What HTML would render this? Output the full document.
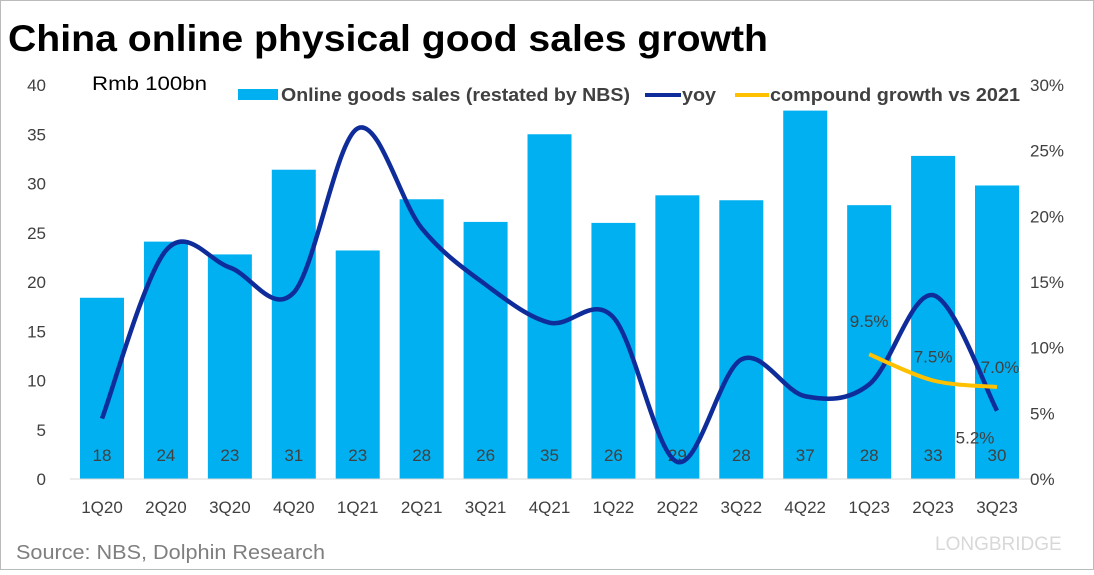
<!DOCTYPE html>
<html><head><meta charset="utf-8"><style>
body{margin:0;background:#fff;}
svg text{font-family:"Liberation Sans","Noto Sans CJK SC",sans-serif;}
</style></head><body>
<svg id="chart" width="1094" height="570" xmlns="http://www.w3.org/2000/svg">
<rect x="0.5" y="0.5" width="1093" height="569" fill="#fff" stroke="#bbb"/>
<text x="8" y="51" font-size="37" font-weight="bold" fill="#000" textLength="760" lengthAdjust="spacingAndGlyphs">China online physical good sales growth</text>
<text x="92" y="90" font-size="19" fill="#000" textLength="115" lengthAdjust="spacingAndGlyphs">Rmb 100bn</text>
<g>
<rect x="238" y="89" width="40" height="11" fill="#00b0f0"/>
<text x="281" y="101" font-size="18" font-weight="bold" fill="#404040" textLength="349" lengthAdjust="spacingAndGlyphs">Online goods sales (restated by NBS)</text>
<line x1="645" y1="95" x2="681" y2="95" stroke="#0f2d9a" stroke-width="4"/>
<text x="682" y="101" font-size="18" font-weight="bold" fill="#404040" textLength="34" lengthAdjust="spacingAndGlyphs">yoy</text>
<line x1="735" y1="95" x2="769" y2="95" stroke="#ffc000" stroke-width="4"/>
<text x="770" y="101" font-size="18" font-weight="bold" fill="#404040" textLength="250" lengthAdjust="spacingAndGlyphs">compound growth vs 2021</text>
</g>
<g id="plot"></g>
<text x="16" y="559" font-size="20" fill="#7f7f7f" textLength="309" lengthAdjust="spacingAndGlyphs">Source: NBS, Dolphin Research</text>
<text x="935" y="550" font-size="19" fill="#d8d8d8">LONGBRIDGE</text>
</svg>
<script>
const categories=["1Q20","2Q20","3Q20","4Q20","1Q21","2Q21","3Q21","4Q21","1Q22","2Q22","3Q22","4Q22","1Q23","2Q23","3Q23"];
const sales=[18.4,24.1,22.8,31.4,23.2,28.4,26.1,35.0,26.0,28.8,28.3,37.4,27.8,32.8,29.8];
const salesLabels=["18","24","23","31","23","28","26","35","26","29","28","37","28","33","30"];
const yoy=[4.6,17.4,16.1,14.2,26.7,19.1,14.8,11.9,12.3,1.3,9.1,6.3,7.2,14.0,5.2];
const compound=[null,null,null,null,null,null,null,null,null,null,null,null,9.5,7.5,7.0];
const leftTicks=[0,5,10,15,20,25,30,35,40];
const rightTicks=[0,5,10,15,20,25,30];
const NS="http://www.w3.org/2000/svg";
const g=document.getElementById('plot');
const y0=479,yTop=85,x0=102,step=63.93,bw=44;
const yL=v=>y0-(v/40)*(y0-yTop);
const yR=v=>y0-(v/30)*(y0-yTop);
const xC=i=>x0+i*step;
function mk(t,a,txt){const e=document.createElementNS(NS,t);for(const k in a)e.setAttribute(k,a[k]);if(txt!=null)e.textContent=txt;g.appendChild(e);return e;}
leftTicks.forEach(v=>{const e=mk('text',{x:46,y:yL(v)+6,'font-size':17,fill:'#404040','text-anchor':'end'},v);

});
rightTicks.forEach(v=>{const e=mk('text',{x:1030,y:yR(v)+6,'font-size':17,fill:'#404040'},v+'%');

});
sales.forEach((v,i)=>{const r=mk('rect',{x:xC(i)-bw/2,y:yL(v),width:bw,height:y0-yL(v),fill:'#00b0f0'});


const t=mk('text',{x:xC(i),y:461,'font-size':17,fill:'#404040','text-anchor':'middle'},salesLabels[i]);


const c=mk('text',{x:xC(i),y:513,'font-size':17,fill:'#404040','text-anchor':'middle'},categories[i]);

});
const ax=mk('line',{x1:70,y1:y0,x2:1030,y2:y0,stroke:'#d9d9d9','stroke-width':1});


function smooth(pts){let d='M'+pts[0][0]+','+pts[0][1];for(let i=0;i<pts.length-1;i++){const p0=pts[i-1]||pts[i],p1=pts[i],p2=pts[i+1],p3=pts[i+2]||p2;const t=6;d+=' C'+(p1[0]+(p2[0]-p0[0])/t)+','+(p1[1]+(p2[1]-p0[1])/t)+' '+(p2[0]-(p3[0]-p1[0])/t)+','+(p2[1]-(p3[1]-p1[1])/t)+' '+p2[0]+','+p2[1];}return d;}
const yp=yoy.map((v,i)=>[xC(i),yR(v)]);
const l=mk('path',{d:smooth(yp),fill:'none',stroke:'#0f2d9a','stroke-width':4.5,'stroke-linejoin':'round'});


const cp=compound.map((v,i)=>v==null?null:[xC(i),yR(v)]).filter(p=>p);
const cl=mk('path',{d:smooth(cp),fill:'none',stroke:'#ffc000','stroke-width':4});


const ci=compound.map((v,i)=>v==null?-1:i).filter(i=>i>=0);
const offs=[[0,-27],[0,-18],[3,-14]];
ci.forEach((i,k)=>{const t=mk('text',{x:xC(i)+offs[k][0],y:yR(compound[i])+offs[k][1],'font-size':17,fill:'#404040','text-anchor':'middle'},compound[i].toFixed(1)+'%');

});
const li=yoy.length-1;
const yl=mk('text',{x:xC(li)-22,y:yR(yoy[li])+33,'font-size':17,fill:'#404040','text-anchor':'middle'},yoy[li].toFixed(1)+'%');


</script>
</body></html>
